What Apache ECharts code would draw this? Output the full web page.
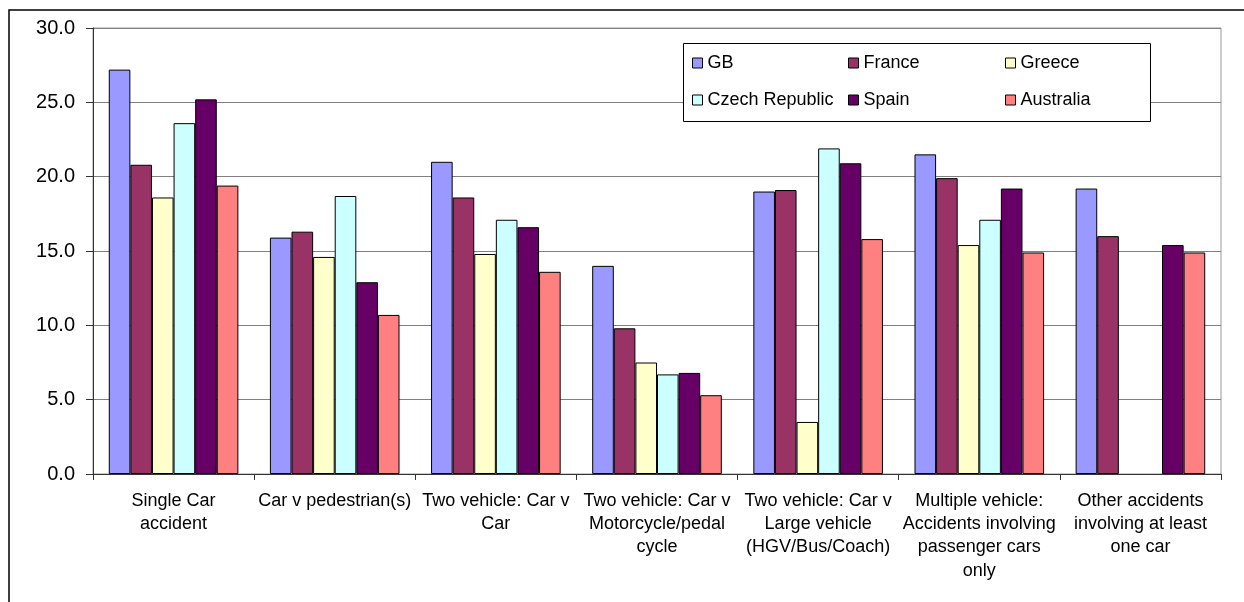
<!DOCTYPE html>
<html>
<head>
<meta charset="utf-8">
<script src="https://cdn.jsdelivr.net/npm/echarts@6/dist/echarts.min.js"></script>
<style>
html,body{margin:0;padding:0;background:#fff;}
#chart{width:1244px;height:602px;}
</style>
</head>
<body>
<div id="chart"></div>
<script>
const categories = [
  "Single Car\naccident",
  "Car v pedestrian(s)",
  "Two vehicle: Car v\nCar",
  "Two vehicle: Car v\nMotorcycle/pedal\ncycle",
  "Two vehicle: Car v\nLarge vehicle\n(HGV/Bus/Coach)",
  "Multiple vehicle:\nAccidents involving\npassenger cars\nonly",
  "Other accidents\ninvolving at least\none car"
];
const gb        = [27.2, 15.9, 21.0, 14.0, 19.0, 21.5, 19.2];
const france    = [20.8, 16.3, 18.6,  9.8, 19.1, 19.9, 16.0];
const greece    = [18.6, 14.6, 14.8,  7.5,  3.5, 15.4, null];
const czech     = [23.6, 18.7, 17.1,  6.7, 21.9, 17.1, null];
const spain     = [25.2, 12.9, 16.6,  6.8, 20.9, 19.2, 15.4];
const australia = [19.4, 10.7, 13.6,  5.3, 15.8, 14.9, 14.9];
const yTicks = [0, 5, 10, 15, 20, 25, 30];

const seriesDefs = [
  {name: "GB", data: gb, color: "#9999FF"},
  {name: "France", data: france, color: "#993366"},
  {name: "Greece", data: greece, color: "#FFFFCC"},
  {name: "Czech Republic", data: czech, color: "#CCFFFF"},
  {name: "Spain", data: spain, color: "#660066"},
  {name: "Australia", data: australia, color: "#FF8080"}
];

const FONT = "Liberation Sans, Arial, sans-serif";

function legendCol(names, left) {
  return {
    data: names,
    orient: "vertical",
    left: left,
    top: 53,
    padding: 0,
    itemWidth: 10,
    itemHeight: 10,
    itemGap: 17,
    z: 10,
    icon: "rect",
    itemStyle: {borderColor: "#000", borderWidth: 1},
    textStyle: {fontFamily: FONT, fontSize: 18, color: "#000", lineHeight: 20}
  };
}

const chart = echarts.init(document.getElementById("chart"), null, {renderer: "canvas"});
chart.setOption({
  animation: false,
  backgroundColor: "#fff",
  grid: {left: 93, right: 23, top: 28, bottom: 128, show: true, borderColor: "#999", borderWidth: 1},
  legend: [
    legendCol(["GB", "Czech Republic"], 692),
    legendCol(["France", "Spain"], 848),
    legendCol(["Greece", "Australia"], 1005)
  ],
  graphic: [
    {type: "rect", z: 1, shape: {x: 9, y: 10, width: 1400, height: 800}, style: {fill: "none", stroke: "#000", lineWidth: 1.5}},
    {type: "rect", z: 5, shape: {x: 683.5, y: 43.5, width: 467, height: 78}, style: {fill: "#fff", stroke: "#000", lineWidth: 1}}
  ],
  xAxis: {
    type: "category",
    data: categories,
    axisLine: {lineStyle: {color: "#333", width: 1}},
    axisTick: {show: true, length: 6, lineStyle: {color: "#333"}},
    axisLabel: {
      interval: 0, margin: 15, color: "#000",
      fontFamily: FONT, fontSize: 18, lineHeight: 23.3, align: "center"
    }
  },
  yAxis: {
    type: "value",
    min: yTicks[0], max: yTicks[yTicks.length - 1], interval: 5,
    axisLine: {show: true, lineStyle: {color: "#333", width: 1}},
    axisTick: {show: true, length: 7, lineStyle: {color: "#333"}},
    splitLine: {lineStyle: {color: "#808080", width: 1}},
    axisLabel: {
      margin: 18, color: "#000", fontFamily: FONT, fontSize: 20,
      formatter: v => v.toFixed(1)
    }
  },
  series: seriesDefs.map(s => ({
    name: s.name,
    type: "bar",
    data: s.data,
    barWidth: 21.6,
    barGap: "0%",
    itemStyle: {color: s.color, borderColor: "#000", borderWidth: 1}
  }))
});
</script>
</body>
</html>
